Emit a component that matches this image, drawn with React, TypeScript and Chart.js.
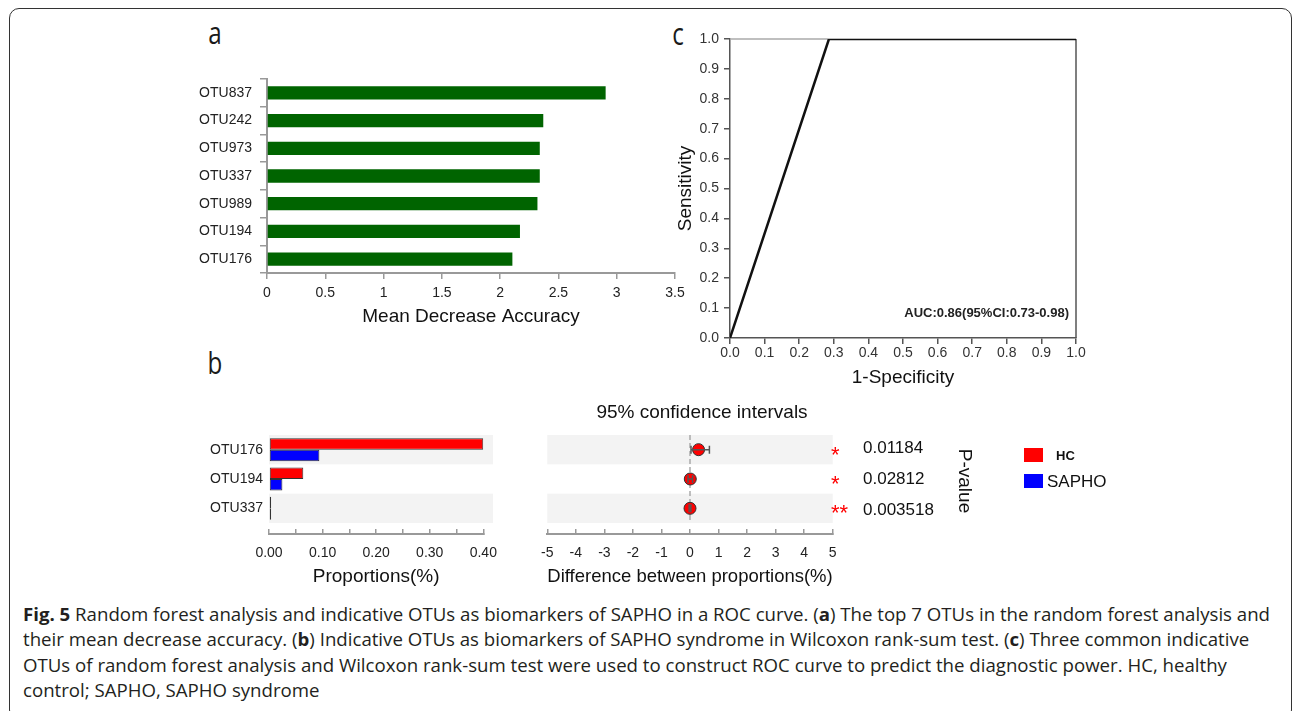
import React, { useEffect, useLayoutEffect, useRef } from 'react';
import { Chart, registerables } from 'chart.js';

Chart.register(...registerables);

const FONT = "'Liberation Sans', Arial, Helvetica, sans-serif";
Chart.defaults.font.family = FONT;
Chart.defaults.color = '#222';

// ---------------- data: panel a (random forest) ----------------
const rfOtus = ['OTU837', 'OTU242', 'OTU973', 'OTU337', 'OTU989', 'OTU194', 'OTU176'];
const rfMda = [2.905, 2.37, 2.34, 2.34, 2.32, 2.17, 2.105];
const rfTicks = [0, 0.5, 1, 1.5, 2, 2.5, 3, 3.5];
const rfTickLabels = ['0', '0.5', '1', '1.5', '2', '2.5', '3', '3.5'];

// ---------------- data: panel b (Wilcoxon) ----------------
const wxOtus = ['OTU176', 'OTU194', 'OTU337'];
const legendNames = ['HC', 'SAPHO'];
const wxHC = [0.4, 0.064, 0.004];
const wxSAPHO = [0.094, 0.025, 0.004];
const propTicks = [0, 0.05, 0.1, 0.15, 0.2, 0.25, 0.3, 0.35, 0.4];
const propTickLabels = ['0.00', '', '0.10', '', '0.20', '', '0.30', '', '0.40'];
const wxDiff = [0.3, 0.01, 0.0];
const wxCiLow = [0.035, -0.07, -0.03];
const wxCiHigh = [0.68, 0.09, 0.03];
const diffTicks = [-5, -4, -3, -2, -1, 0, 1, 2, 3, 4, 5];
const diffTickLabels = ['-5', '-4', '-3', '-2', '-1', '0', '1', '2', '3', '4', '5'];
const wxPValues = ['0.01184', '0.02812', '0.003518'];
const wxStars = ['*', '*', '**'];

// ---------------- data: panel c (ROC) ----------------
const rocFpr = [0, 0.286, 1];
const rocTpr = [0, 1, 1];
const rocTicks = [0, 0.1, 0.2, 0.3, 0.4, 0.5, 0.6, 0.7, 0.8, 0.9, 1.0];
const rocTickLabels = ['0.0', '0.1', '0.2', '0.3', '0.4', '0.5', '0.6', '0.7', '0.8', '0.9', '1.0'];
const rocAuc = 'AUC:0.86(95%CI:0.73-0.98)';

const AXIS_GRAY = '#999';
const BAND = '#f3f3f3';

function fixWidth(w: number) {
  return (s: any) => {
    s.width = w;
    s.paddingLeft = 0; s.paddingRight = 0; s.paddingTop = 0; s.paddingBottom = 0;
  };
}
function fixHeight(h: number) {
  return (s: any) => {
    s.height = h;
    s.paddingLeft = 0; s.paddingRight = 0; s.paddingTop = 0; s.paddingBottom = 0;
  };
}
function setTicks(values: number[]) {
  return (s: any) => { s.ticks = values.map((v) => ({ value: v })); };
}

function ChartCanvas({ left, top, width, height, make }: { left: number; top: number; width: number; height: number; make: () => any }) {
  const ref = useRef<HTMLCanvasElement>(null);
  useEffect(() => {
    const chart = new Chart(ref.current as HTMLCanvasElement, make());
    return () => chart.destroy();
  }, []);
  return (
    <canvas
      ref={ref}
      width={width}
      height={height}
      style={{ position: 'absolute', left, top, width, height }}
    />
  );
}

// ---------------- panel a ----------------
function makeRf() {
  return {
    type: 'bar',
    data: {
      labels: rfOtus,
      datasets: [{
        data: rfMda,
        backgroundColor: '#006400',
        borderWidth: 0,
        barPercentage: 0.48,
        categoryPercentage: 1,
      }],
    },
    options: {
      indexAxis: 'y',
      animation: false,
      responsive: false,
      devicePixelRatio: 1,
      layout: { padding: { top: 9, right: 15, left: 0, bottom: 0 } },
      plugins: { legend: { display: false }, tooltip: { enabled: false } },
      scales: {
        x: {
          type: 'linear', min: 0, max: 3.5,
          afterBuildTicks: setTicks(rfTicks),
          afterFit: fixHeight(67),
          ticks: { autoSkip: false, maxRotation: 0, color: '#222', font: { size: 14 }, padding: 6,
            callback: (_v: any, i: number) => rfTickLabels[i] },
          grid: { drawOnChartArea: false, drawTicks: true, tickLength: 6, color: AXIS_GRAY, lineWidth: 1.5 },
          border: { color: AXIS_GRAY, width: 2 },
          title: { display: true, text: 'Mean Decrease Accuracy', color: '#111', font: { size: 19 }, padding: { top: 0, bottom: 12 } },
        },
        y: {
          type: 'category', offset: true,
          afterFit: fixWidth(87),
          ticks: { autoSkip: false, color: '#222', font: { size: 14 }, padding: 8 },
          grid: { drawOnChartArea: false, drawTicks: true, tickLength: 7, color: AXIS_GRAY, lineWidth: 1.5, offset: true },
          border: { color: AXIS_GRAY, width: 2 },
        },
      },
    },
  };
}

// ---------------- panel c ----------------
const rocFramePlugin = {
  id: 'rocFrame',
  beforeDatasetsDraw(chart: any) {
    const { ctx, chartArea: a } = chart;
    ctx.save();
    ctx.lineWidth = 1.5;
    ctx.strokeStyle = '#aaa';
    ctx.beginPath(); ctx.moveTo(a.left, a.top); ctx.lineTo(a.right, a.top); ctx.stroke();
    ctx.strokeStyle = '#555';
    ctx.beginPath(); ctx.moveTo(a.right, a.top); ctx.lineTo(a.right, a.bottom); ctx.stroke();
    ctx.restore();
  },
};
const rocAucPlugin = {
  id: 'rocAuc',
  afterDatasetsDraw(chart: any) {
    const { ctx, chartArea: a } = chart;
    ctx.save();
    ctx.font = `bold 13px ${FONT}`;
    ctx.fillStyle = '#222';
    ctx.textAlign = 'right';
    ctx.textBaseline = 'middle';
    ctx.fillText(rocAuc, a.right - 7, a.bottom - 25);
    ctx.restore();
  },
};
function makeRoc() {
  return {
    type: 'line',
    data: {
      datasets: [{
        data: rocFpr.map((x, i) => ({ x, y: rocTpr[i] })),
        borderColor: '#111',
        borderWidth: 2.5,
        pointRadius: 0,
        tension: 0,
        fill: false,
      }],
    },
    options: {
      animation: false,
      responsive: false,
      devicePixelRatio: 1,
      layout: { padding: { top: 19, right: 24, left: 0, bottom: 0 } },
      plugins: { legend: { display: false }, tooltip: { enabled: false } },
      scales: {
        x: {
          type: 'linear', min: 0, max: 1,
          afterBuildTicks: setTicks(rocTicks),
          afterFit: fixHeight(62),
          ticks: { autoSkip: false, maxRotation: 0, color: '#333', font: { size: 14 }, padding: 1,
            callback: (_v: any, i: number) => rocTickLabels[i] },
          grid: { drawOnChartArea: false, tickLength: 6, color: '#555', lineWidth: 1.5 },
          border: { color: '#555', width: 1.5 },
          title: { display: true, text: '1-Specificity', color: '#111', font: { size: 19 }, padding: { top: 0, bottom: 11 } },
        },
        y: {
          type: 'linear', min: 0, max: 1,
          afterBuildTicks: setTicks(rocTicks),
          afterFit: fixWidth(60),
          ticks: { autoSkip: false, color: '#333', font: { size: 14 }, padding: 5,
            callback: (_v: any, i: number) => rocTickLabels[i] },
          grid: { drawOnChartArea: false, tickLength: 6, color: '#555', lineWidth: 1.5 },
          border: { color: '#555', width: 1.5 },
          title: { display: true, text: 'Sensitivity', color: '#111', font: { size: 19 }, padding: { top: 4, bottom: 0 } },
        },
      },
    },
    plugins: [rocFramePlugin, rocAucPlugin],
  };
}

// ---------------- panel b shared plugins ----------------
function bandsPlugin(bandMin: number, bandMax: number) {
  return {
    id: 'bands',
    beforeDatasetsDraw(chart: any) {
      const { ctx } = chart;
      const x = chart.scales.x;
      const y = chart.scales.y;
      ctx.save();
      ctx.fillStyle = BAND;
      wxOtus.forEach((_n, i) => {
        if (i % 2 !== 0) return;
        const y1 = y.getPixelForValue(i - 0.5);
        const y2 = y.getPixelForValue(i + 0.5);
        const x1 = x.getPixelForValue(bandMin);
        const x2 = x.getPixelForValue(bandMax);
        ctx.fillRect(x1, Math.min(y1, y2), x2 - x1, Math.abs(y2 - y1));
      });
      ctx.restore();
    },
  };
}
const zeroLinePlugin = {
  id: 'zeroLine',
  beforeDatasetsDraw(chart: any) {
    const { ctx } = chart;
    const x = chart.scales.x;
    const y = chart.scales.y;
    const px = x.getPixelForValue(0);
    ctx.save();
    ctx.strokeStyle = '#aaa';
    ctx.lineWidth = 1.5;
    ctx.setLineDash([5, 3]);
    ctx.beginPath();
    ctx.moveTo(px, y.getPixelForValue(-0.5));
    ctx.lineTo(px, y.getPixelForValue(wxOtus.length - 0.5));
    ctx.stroke();
    ctx.restore();
  },
};
const errorBarPlugin = {
  id: 'errorBars',
  afterDatasetsDraw(chart: any) {
    const { ctx } = chart;
    const x = chart.scales.x;
    const y = chart.scales.y;
    ctx.save();
    ctx.strokeStyle = '#555';
    ctx.lineWidth = 1.5;
    wxOtus.forEach((_n, i) => {
      const py = y.getPixelForValue(i);
      const xl = x.getPixelForValue(wxCiLow[i]);
      const xh = x.getPixelForValue(wxCiHigh[i]);
      ctx.beginPath();
      ctx.moveTo(xl, py); ctx.lineTo(xh, py);
      ctx.moveTo(xl, py - 4); ctx.lineTo(xl, py + 4);
      ctx.moveTo(xh, py - 4); ctx.lineTo(xh, py + 4);
      ctx.stroke();
    });
    ctx.restore();
  },
};

function makeProp() {
  return {
    type: 'bar',
    data: {
      datasets: [
        {
          label: legendNames[0],
          data: wxHC.map((v, i) => ({ x: v, y: i })),
          backgroundColor: '#ff0000', borderColor: '#333', borderWidth: 1, borderSkipped: false,
          categoryPercentage: 0.785, barPercentage: 1,
        },
        {
          label: legendNames[1],
          data: wxSAPHO.map((v, i) => ({ x: v, y: i })),
          backgroundColor: '#0000ff', borderColor: '#333', borderWidth: 1, borderSkipped: false,
          categoryPercentage: 0.785, barPercentage: 1,
        },
      ],
    },
    options: {
      indexAxis: 'y',
      animation: false,
      responsive: false,
      devicePixelRatio: 1,
      layout: { padding: { top: 15, right: 16.7, left: 0, bottom: 0 } },
      plugins: { legend: { display: false }, tooltip: { enabled: false } },
      scales: {
        x: {
          type: 'linear', min: 0, max: 0.4,
          afterBuildTicks: setTicks(propTicks),
          afterFit: fixHeight(66),
          ticks: { autoSkip: false, maxRotation: 0, color: '#222', font: { size: 14 }, padding: 15.6,
            callback: (_v: any, i: number) => propTickLabels[i] },
          grid: { drawOnChartArea: false, tickLength: -5, color: AXIS_GRAY, lineWidth: 1.5 },
          border: { color: AXIS_GRAY, width: 2 },
          title: { display: true, text: 'Proportions(%)', color: '#111', font: { size: 19 }, padding: { top: 0, bottom: 11.6 } },
        },
        y: {
          type: 'linear', reverse: true, min: -0.5, max: 2.875, offset: false,
          afterBuildTicks: setTicks(wxOtus.map((_n, i) => i)),
          afterFit: fixWidth(89),
          ticks: { autoSkip: false, color: '#222', font: { size: 14 }, padding: 6,
            callback: (_v: any, i: number) => wxOtus[i] },
          grid: { display: false, drawTicks: false, offset: false },
          border: { display: false },
        },
      },
    },
    plugins: [bandsPlugin(0, 0.418)],
  };
}

function makeDiff() {
  return {
    type: 'scatter',
    data: {
      datasets: [{
        data: wxDiff.map((v, i) => ({ x: v, y: i })),
        backgroundColor: '#ff0000',
        borderColor: '#333',
        borderWidth: 1,
        pointRadius: 6,
      }],
    },
    options: {
      animation: false,
      responsive: false,
      devicePixelRatio: 1,
      layout: { padding: { top: 15, right: 17.3, left: 17.3, bottom: 0 } },
      plugins: { legend: { display: false }, tooltip: { enabled: false } },
      scales: {
        x: {
          type: 'linear', min: -5, max: 5,
          afterBuildTicks: setTicks(diffTicks),
          afterFit: fixHeight(66),
          ticks: { autoSkip: false, maxRotation: 0, color: '#222', font: { size: 14 }, padding: 15.6,
            callback: (_v: any, i: number) => diffTickLabels[i] },
          grid: { drawOnChartArea: false, tickLength: -5, color: AXIS_GRAY, lineWidth: 1.5 },
          border: { color: AXIS_GRAY, width: 2 },
          title: { display: true, text: 'Difference between proportions(%)', color: '#111', font: { size: 19 }, padding: { top: 0, bottom: 11.6 } },
        },
        y: { type: 'linear', display: false, reverse: true, min: -0.5, max: 2.875 },
      },
    },
    plugins: [bandsPlugin(-5, 5), zeroLinePlugin, errorBarPlugin],
  };
}

// ---------------- text helper ----------------
function Txt({ x, y, anchor = 'start', size, weight = 400, color = '#111', family = FONT, rotate = 0, sx = 1, children }:
  { x: number; y: number; anchor?: 'start' | 'middle' | 'end'; size: number; weight?: number; color?: string; family?: string; rotate?: number; sx?: number; children: React.ReactNode }) {
  const tx = anchor === 'start' ? '0' : anchor === 'middle' ? '-50%' : '-100%';
  return (
    <div style={{
      position: 'absolute', left: x, top: y, whiteSpace: 'nowrap',
      fontFamily: family, fontSize: size, fontWeight: weight, color, lineHeight: 1,
      transform: `translate(${tx}, -50%) rotate(${rotate}deg) scaleX(${sx})`,
      transformOrigin: anchor === 'start' ? 'left center' : 'center center',
    }}>{children}</div>
  );
}

const CAP_FONT = "'Open Sans', 'Noto Sans', sans-serif";
const captionLines: React.ReactNode[] = [
  <><b>Fig. 5</b> Random forest analysis and indicative OTUs as biomarkers of SAPHO in a ROC curve. (<b>a</b>) The top 7 OTUs in the random forest analysis and</>,
  <>their mean decrease accuracy. (<b>b</b>) Indicative OTUs as biomarkers of SAPHO syndrome in Wilcoxon rank-sum test. (<b>c</b>) Three common indicative</>,
  <>OTUs of random forest analysis and Wilcoxon rank-sum test were used to construct ROC curve to predict the diagnostic power. HC, healthy</>,
  <>control; SAPHO, SAPHO syndrome</>,
];
const captionY = [614, 639, 665, 690];

function Caption() {
  const refs = useRef<(HTMLSpanElement | null)[]>([]);
  useLayoutEffect(() => {
    const fit = () => {
      const first = refs.current[0];
      if (!first) return;
      refs.current.forEach((el) => { if (el) el.style.transform = 'none'; });
      const w = first.getBoundingClientRect().width;
      const k = 1247 / w;
      refs.current.forEach((el) => { if (el) el.style.transform = `scaleX(${k})`; });
    };
    fit();
    if ((document as any).fonts && (document as any).fonts.ready) (document as any).fonts.ready.then(fit);
  }, []);
  return (
    <>
      {captionLines.map((line, i) => (
        <span
          key={i}
          ref={(el) => { refs.current[i] = el; }}
          style={{
            position: 'absolute', left: 23, top: captionY[i] - 11, height: 22, lineHeight: '22px',
            fontFamily: CAP_FONT, fontSize: 17.5, color: '#231f20', whiteSpace: 'nowrap',
            transformOrigin: 'left center', display: 'inline-block',
          }}
        >{line}</span>
      ))}
    </>
  );
}

export default function App() {
  const rowY = [449.7, 479, 508.3];
  return (
    <div style={{ position: 'fixed', left: 0, top: 0, width: 1292, height: 711, overflow: 'hidden', background: '#fff' }}>
      {/* frame */}
      <div style={{ position: 'absolute', left: 9, top: 8, width: 1283, height: 712, boxSizing: 'border-box', border: '1.5px solid #333', borderRadius: 10 }} />

      {/* panel letters */}
      <Txt x={215} y={32} anchor="middle" size={31} weight={400} family={CAP_FONT} sx={0.78} color="#1a1a1a">a</Txt>
      <Txt x={215} y={362} anchor="middle" size={31} weight={400} family={CAP_FONT} sx={0.78} color="#1a1a1a">b</Txt>
      <Txt x={678} y={33} anchor="middle" size={31} weight={400} family={CAP_FONT} sx={0.78} color="#1a1a1a">c</Txt>

      <ChartCanvas left={180} top={70} width={510} height={270} make={makeRf} />
      <ChartCanvas left={670} top={20} width={430} height={380} make={makeRoc} />
      <ChartCanvas left={180} top={420} width={320} height={180} make={makeProp} />
      <ChartCanvas left={530} top={420} width={320} height={180} make={makeDiff} />

      <Txt x={702} y={411} anchor="middle" size={19} color="#111">95% confidence intervals</Txt>

      {wxStars.map((s, i) => (
        <Txt key={'s' + i} x={831} y={rowY[i] + 5} size={22} color="#ff0000">{s}</Txt>
      ))}
      {wxPValues.map((p, i) => (
        <Txt key={'p' + i} x={863} y={[447, 478, 509][i]} size={17} color="#111">{p}</Txt>
      ))}
      <Txt x={965} y={481} anchor="middle" size={19} rotate={90} color="#111">P-value</Txt>

      {/* legend */}
      <div style={{ position: 'absolute', left: 1024, top: 448, width: 19, height: 14, background: '#ff0000' }} />
      <div style={{ position: 'absolute', left: 1024, top: 474, width: 19, height: 14, background: '#0000ff' }} />
      <Txt x={1056} y={455} size={13} weight={700} color="#111">{legendNames[0]}</Txt>
      <Txt x={1047} y={481} size={17} color="#111">{legendNames[1]}</Txt>

      <Caption />
    </div>
  );
}
